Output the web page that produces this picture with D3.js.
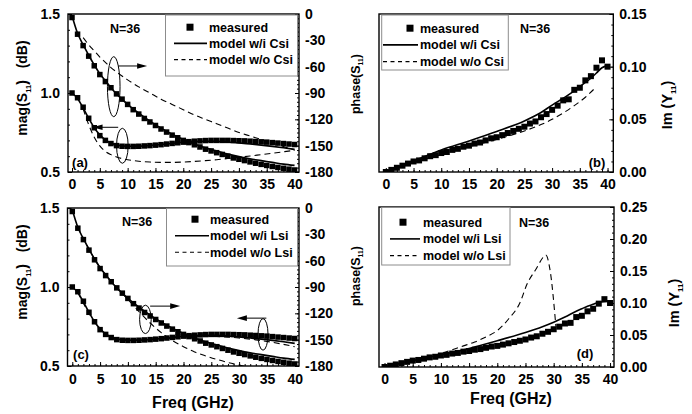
<!DOCTYPE html>
<html><head><meta charset="utf-8">
<script src="https://cdn.jsdelivr.net/npm/d3@7"></script>
<style>
body{margin:0;background:#fff}
svg{display:block}
text{font-family:"Liberation Sans",Arial,sans-serif;font-weight:bold;fill:#000}
</style>
</head><body><svg id="c" width="692" height="414"></svg>
<script>
// ---------------- data ----------------
const freq = [0,1,2,3,4,5,6,7,8,9,10,11,12,13,14,15,16,17,18,19,20,21,22,23,24,25,26,27,28,29,30,31,32,33,34,35,36,37,38,39,40];
// measured |S11| (dB, left axis) and phase(S11) (deg, right axis)
const magMeas = [1.000,0.970,0.910,0.840,0.780,0.730,0.700,0.680,0.667,0.663,0.662,0.662,0.663,0.665,0.667,0.670,0.673,0.677,0.681,0.685,0.689,0.692,0.695,0.697,0.699,0.700,0.700,0.700,0.700,0.699,0.698,0.697,0.695,0.693,0.691,0.689,0.686,0.683,0.680,0.677,0.674];
const phaseMeas = [-4,-23,-36,-48,-59,-69,-77,-84,-91,-97,-103,-109,-114,-119,-123,-127,-131,-134.5,-138,-141,-144,-146.5,-149,-151.5,-154,-156,-158,-160,-162,-164,-165.5,-167,-168.5,-170,-171.3,-172.5,-173.7,-174.8,-175.8,-176.8,-177.7];
// full model (w/i Csi, w/i Lsi)
const modelX = [0,1,2,3,4,5,6,7,8,10,12,14,16,18,20,22,24,26,28,30,32,34,36,38,40];
const modelMag = [1.0,0.965,0.905,0.84,0.78,0.735,0.703,0.683,0.671,0.663,0.664,0.668,0.674,0.681,0.688,0.693,0.695,0.694,0.69,0.684,0.677,0.67,0.662,0.653,0.643];
const modelPhase = [-2,-22,-35,-47,-58,-68,-76,-84,-91,-103,-113,-122,-130,-137,-143,-148,-152.5,-156,-159.5,-162.5,-165,-167,-169,-171,-172.5];
// model w/o Csi
const noCsiX = [2,3,4,5,6,7,8,10,12,14,16,18,20,22,24,26,28,30,32,34,36,38,40];
const noCsiMag = [0.90,0.80,0.72,0.665,0.63,0.61,0.595,0.578,0.568,0.563,0.561,0.561,0.563,0.567,0.572,0.578,0.585,0.593,0.601,0.61,0.619,0.628,0.637];
const noCsiPhase = [-27,-35,-42,-49,-55,-61,-66,-75,-83,-90,-97,-103,-109,-115,-120,-125,-130,-135,-139,-143,-147,-151,-155];
// model w/o Lsi
const noLsiMagX = [1,4,8,12,16,18,20,22,24,26,28,30,32,34,36,38,40];
const noLsiMag = [0.965,0.78,0.671,0.664,0.674,0.680,0.685,0.688,0.689,0.687,0.683,0.677,0.670,0.661,0.650,0.637,0.622];
const noLsiPhaseX = [1,4,8,10,12,14,16,18,20,22,24,26,28,30,32];
const noLsiPhase = [-22,-58,-91,-104,-118,-131,-142,-151,-158,-164,-168.5,-172.5,-176,-179,-182];
// measured Im(Y11)
const imMeas = [0.000,0.002,0.004,0.006,0.008,0.010,0.011,0.013,0.015,0.016,0.018,0.019,0.021,0.022,0.024,0.025,0.027,0.028,0.030,0.032,0.033,0.035,0.037,0.039,0.041,0.043,0.046,0.048,0.052,0.055,0.059,0.063,0.068,0.069,0.078,0.080,0.087,0.091,0.099,0.106,0.100];
const imCsiX = [0,5,10,15,20,25,28,30,32,34,35,36,37,38,39,40];
const imCsi = [0,0.0105,0.021,0.0295,0.0385,0.0485,0.0565,0.0635,0.070,0.077,0.081,0.085,0.089,0.094,0.099,0.101];
const imNoCsiX = [0,5,10,15,20,25,28,30,32,34,36,38];
const imNoCsi = [0,0.009,0.0165,0.024,0.031,0.039,0.045,0.050,0.056,0.063,0.071,0.081];
const imLsiX = [0,5,10,15,20,25,28,30,32,34,35,36,37,38,40];
const imLsi = [0,0.010,0.019,0.029,0.041,0.054,0.063,0.070,0.078,0.087,0.091,0.095,0.098,0.101,0.103];
const imNoLsiX = [0,4,8,10,12,14,16,18,20,22,24,25.3,26.8,28.3,28.6,29.4,30.4];
const imNoLsi = [0,0.008,0.016,0.021,0.027,0.033,0.039,0.047,0.057,0.075,0.100,0.130,0.152,0.173,0.175,0.149,0.063];

const xTicks = [0,5,10,15,20,25,30,35,40];
const magTicks = [0.5,1.0,1.5];
const phaseTicks = [0,-30,-60,-90,-120,-150,-180];
const imTicksB = [0,0.05,0.10,0.15];
const imTicksD = [0,0.05,0.10,0.15,0.20,0.25];
const legendCsi = ["measured","model w/i Csi","model w/o Csi"];
const legendLsi = ["measured","model w/i Lsi","model w/o Lsi"];

// ---------------- drawing ----------------
const svg = d3.select("#c");
const defs = svg.append("defs");
const zip = (xs, ys) => xs.map((x,i)=>[x, ys[i]]);
let clipN = 0;

function styleAxis(g, size){
  g.attr("font-size", size).attr("font-family", '"Liberation Sans",Arial,sans-serif').attr("font-weight","bold");
  g.select(".domain").remove();
  g.selectAll("line").attr("stroke","#000").attr("stroke-width",1);
}

function panel(c){
  const g = svg.append("g");
  const x = d3.scaleLinear().domain(c.xDom).range([c.left, c.right]);
  const ys = {};
  ys.L = d3.scaleLinear().domain(c.yLDom).range([c.bottom, c.top]);
  if (c.yRDom) ys.R = d3.scaleLinear().domain(c.yRDom).range([c.bottom, c.top]);
  const id = "clip"+(clipN++);
  defs.append("clipPath").attr("id", id).append("rect")
    .attr("x", c.left).attr("y", c.top).attr("width", c.right-c.left).attr("height", c.bottom-c.top);

  // axes: bottom
  const gb = g.append("g").attr("transform", `translate(0,${c.bottom})`);
  gb.append("g").call(d3.axisBottom(x).tickValues(d3.range(0,41,1)).tickSize(-2).tickFormat("")).call(s=>styleAxis(s,14));
  gb.append("g").call(d3.axisBottom(x).tickValues(xTicks).tickSize(-4).tickPadding(c.xPad).tickFormat(d3.format("d"))).call(s=>styleAxis(s,14));
  // left axis (left panels only)
  if (c.leftTicks){
    const gl = g.append("g").attr("transform", `translate(${c.left},0)`);
    gl.append("g").call(d3.axisLeft(ys.L).tickValues(d3.range(5,16).map(v=>v/10)).tickSize(-2).tickFormat("")).call(s=>styleAxis(s,14));
    gl.append("g").call(d3.axisLeft(ys.L).tickValues(c.leftTicks).tickSize(-4).tickPadding(8).tickFormat(d3.format(".1f"))).call(s=>styleAxis(s,14));
  }
  // right axis
  const rScale = ys.R || ys.L;
  const gr = g.append("g").attr("transform", `translate(${c.right},0)`);
  gr.append("g").call(d3.axisRight(rScale).tickValues(c.rMinor).tickSize(-2).tickFormat("")).call(s=>styleAxis(s,14));
  gr.append("g").call(d3.axisRight(rScale).tickValues(c.rTicks).tickSize(-4).tickPadding(6).tickFormat(c.rFmt)).call(s=>styleAxis(s,14));

  // frame
  g.append("rect").attr("x", c.left).attr("y", c.top).attr("width", c.right-c.left).attr("height", c.bottom-c.top)
    .attr("fill","none").attr("stroke","#000").attr("stroke-width",1.4);

  const plot = g.append("g").attr("clip-path", `url(#${id})`);
  const line = (sc) => d3.line().x(d=>x(d[0])).y(d=>sc(d[1])).curve(d3.curveMonotoneX);
  c.lines.forEach(L=>{
    plot.append("path").datum(zip(L.x, L.y)).attr("d", line(ys[L.axis]))
      .attr("fill","none").attr("stroke","#000")
      .attr("stroke-width", L.dash ? 1.1 : 1.6)
      .attr("stroke-dasharray", L.dash ? "6,4" : null);
  });
  c.points.forEach(P=>{
    const s = c.ms;
    plot.append("g").selectAll("rect").data(zip(P.x, P.y)).join("rect")
      .attr("x", d=>x(d[0])-s/2).attr("y", d=>ys[P.axis](d[1])-s/2)
      .attr("width", s).attr("height", s).attr("fill","#000");
  });

  // annotations: ellipses + arrows (data coordinates, left axis)
  (c.ellipses||[]).forEach(e=>{
    g.append("ellipse").attr("cx", x(e.cx)).attr("cy", ys.L(e.cy)).attr("rx", e.rx).attr("ry", e.ry)
      .attr("fill","none").attr("stroke","#000").attr("stroke-width",1);
  });
  (c.arrows||[]).forEach(a=>{
    const x1 = x(a.x1), x2 = x(a.x2), y = ys.L(a.y), dir = Math.sign(x2-x1);
    g.append("line").attr("x1",x1).attr("x2",x2-dir*8).attr("y1",y).attr("y2",y).attr("stroke","#000").attr("stroke-width",1);
    g.append("path").attr("d", `M${x2},${y}L${x2-dir*10},${y-2.8}L${x2-dir*10},${y+2.8}Z`).attr("fill","#000");
  });

  // legend
  const lg = c.legend;
  g.append("rect").attr("x", lg.x).attr("y", lg.y).attr("width", lg.w).attr("height", lg.h)
    .attr("fill","#fff").attr("stroke","#8c8c8c").attr("stroke-width",1);
  lg.labels.forEach((t,i)=>{
    const by = lg.base + i*lg.dy;
    g.append("text").attr("x", lg.tx).attr("y", by).attr("font-size", 12.5).text(t);
    const my = by - 4.3;
    if (i===0) g.append("rect").attr("x", lg.mx-3.5).attr("y", my-3.5).attr("width",7).attr("height",7).attr("fill","#000");
    else g.append("line").attr("x1", lg.lx1).attr("x2", lg.lx2).attr("y1", my).attr("y2", my)
      .attr("stroke","#000").attr("stroke-width", i===1?1.6:1.1).attr("stroke-dasharray", i===2?"4,3.5":null);
  });

  g.append("text").attr("x", c.nX).attr("y", c.nY).attr("text-anchor","middle").attr("font-size",12.5).text("N=36");
  g.append("text").attr("x", c.tagX).attr("y", c.tagY).attr("text-anchor","middle").attr("font-size",13).text(c.tag);
}

const magLines = (noX, noMag, noPX, noPh) => [
  {x: modelX, y: modelMag, axis:"L"},
  {x: modelX, y: modelPhase, axis:"R"},
  {x: noX, y: noMag, axis:"L", dash:true},
  {x: noPX, y: noPh, axis:"R", dash:true}
];

// (a)
panel({left:68, right:299, top:14, bottom:172, xDom:[-0.72,40.8], yLDom:[0.5,1.5], yRDom:[-180,0],
  xPad:7, leftTicks: magTicks, rTicks: phaseTicks, rMinor: d3.range(-180,1,5), rFmt: d=>String(d), ms:5.5,
  lines: magLines(noCsiX, noCsiMag, noCsiX, noCsiPhase),
  points: [{x:freq, y:magMeas, axis:"L"},{x:freq, y:phaseMeas, axis:"R"}],
  ellipses:[{cx:7.5, cy:1.04, rx:6.3, ry:30},{cx:9.05, cy:0.666, rx:5.8, ry:17.5}],
  arrows:[{x1:8.3, x2:13.5, y:1.171},{x1:8.3, x2:3.7, y:0.783}],
  legend:{x:165.5, y:15, w:132, h:61, labels:legendCsi, base:31.5, dy:16.2, tx:209, mx:190, lx1:174, lx2:207},
  nX:125, nY:32.5, tag:"(a)", tagX:80, tagY:167});

// (c)
panel({left:67.5, right:299, top:208, bottom:366, xDom:[-0.86,40.77], yLDom:[0.5,1.5], yRDom:[-180,0],
  xPad:8, leftTicks: magTicks, rTicks: phaseTicks, rMinor: d3.range(-180,1,5), rFmt: d=>String(d), ms:5.5,
  lines: magLines(noLsiMagX, noLsiMag, noLsiPhaseX, noLsiPhase),
  points: [{x:freq, y:magMeas, axis:"L"},{x:freq, y:phaseMeas, axis:"R"}],
  ellipses:[{cx:13.15, cy:0.795, rx:5.8, ry:14.2},{cx:34.3, cy:0.70, rx:5, ry:15.8}],
  arrows:[{x1:14.0, x2:19.4, y:0.879},{x1:34.9, x2:29.6, y:0.803}],
  legend:{x:166.5, y:208.5, w:131, h:57.5, labels:legendLsi, base:223.5, dy:16.5, tx:210, mx:195, lx1:175, lx2:209},
  nX:137, nY:226, tag:"(c)", tagX:81, tagY:359});

// (b)
panel({left:379, right:613.3, top:14, bottom:172, xDom:[-1.23,41.04], yLDom:[0,0.15],
  xPad:7, rTicks: imTicksB, rMinor: d3.range(0,16).map(v=>v/100), rFmt: d3.format(".2f"), ms:6,
  lines: [{x:imCsiX, y:imCsi, axis:"L"},{x:imNoCsiX, y:imNoCsi, axis:"L", dash:true}],
  points: [{x:freq, y:imMeas, axis:"L"}],
  legend:{x:381.7, y:15, w:126.6, h:55, labels:legendCsi, base:32.5, dy:16.7, tx:420, mx:410, lx1:383, lx2:418},
  nX:535, nY:32.7, tag:"(b)", tagX:597, tagY:167});

// (d)
panel({left:379, right:614, top:207, bottom:367, xDom:[-0.98,40.7], yLDom:[0,0.25],
  xPad:7, rTicks: imTicksD, rMinor: d3.range(0,26).map(v=>v/100), rFmt: d3.format(".2f"), ms:6,
  lines: [{x:imLsiX, y:imLsi, axis:"L"},{x:imNoLsiX, y:imNoLsi, axis:"L", dash:true}],
  points: [{x:freq, y:imMeas, axis:"L"}],
  legend:{x:381.7, y:207.5, w:128.3, h:57.5, labels:legendLsi, base:226.5, dy:16.7, tx:423, mx:403, lx1:390, lx2:420},
  nX:534, nY:227, tag:"(d)", tagX:585, tagY:358});

// axis titles
function vlabel(x, y, size, parts){
  const t = svg.append("text").attr("transform", `translate(${x},${y}) rotate(-90)`)
    .attr("text-anchor","middle").attr("font-size", size).style("white-space","pre");
  parts.forEach(p=>{
    const s = t.append("tspan").text(p.t);
    if (p.sub) s.attr("font-size", size*0.55).attr("dy", size*0.25);
    if (p.up) s.attr("dy", -size*0.25);
  });
}
const magTitle = [{t:"mag(S"},{t:"11",sub:true},{t:")   (dB)",up:true}];
const phaseTitle = [{t:"phase(S"},{t:"11",sub:true},{t:")",up:true}];
const imTitle = [{t:"Im (Y"},{t:"11",sub:true},{t:")",up:true}];
vlabel(27, 88, 14, magTitle);
vlabel(27, 272, 14, magTitle);
vlabel(360, 84, 12.5, phaseTitle);
vlabel(360, 276, 12.5, phaseTitle);
vlabel(672, 105, 14.5, imTitle);
vlabel(679, 303, 14.5, imTitle);
svg.append("text").attr("x",193).attr("y",408).attr("text-anchor","middle").attr("font-size",16).text("Freq (GHz)");
svg.append("text").attr("x",511).attr("y",404).attr("text-anchor","middle").attr("font-size",16).text("Freq (GHz)");
</script>
</body></html>
